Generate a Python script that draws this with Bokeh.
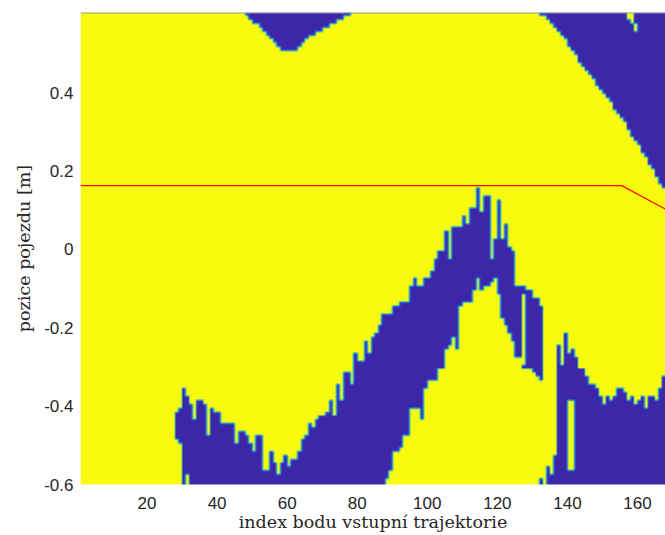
import numpy as np
from bokeh.plotting import figure
from bokeh.models import Range1d, FixedTicker, Span
from bokeh.embed import file_html
from bokeh.resources import INLINE

# ---------------- data ----------------
# grid: columns k cover [k, k+1] on the index axis, rows every 0.01 m
col_first, col_last = 1, 167
y_rows_min, y_rows_max, y_step = -0.6, 0.6, 0.01

# upper-left blue region: blue above these values
top_a_cols = list(range(48, 78))
top_a_lo = [0.595, 0.59, 0.58, 0.573, 0.565, 0.556, 0.545, 0.535, 0.525, 0.515,
            0.502, 0.502, 0.502, 0.502, 0.51, 0.52, 0.527, 0.535, 0.544, 0.55,
            0.553, 0.558, 0.562, 0.568, 0.573, 0.578, 0.582, 0.59, 0.595, 0.598]

# upper-right blue region: blue above these values
top_b_cols = list(range(132, 168))
top_b_lo = [0.60, 0.595, 0.585, 0.575, 0.565, 0.555, 0.545, 0.535, 0.52, 0.51,
            0.495, 0.48, 0.47, 0.46, 0.45, 0.435, 0.42, 0.41, 0.40, 0.385,
            0.375, 0.36, 0.35, 0.34, 0.325, 0.31, 0.29, 0.28, 0.265, 0.25,
            0.235, 0.22, 0.205, 0.19, 0.17, 0.155]

# main blue band (lower-left snake): blue between lo and hi
band1_cols = list(range(28, 133))
band1_hi = [-0.42, -0.41, -0.36, -0.38, -0.40, -0.44, -0.385, -0.385, -0.40, -0.48,
            -0.41, -0.42, -0.415, -0.45, -0.45, -0.445, -0.445, -0.495, -0.47, -0.47,
            -0.475, -0.495, -0.513, -0.48, -0.48, -0.565, -0.565, -0.513, -0.543, -0.573,
            -0.547, -0.53, -0.56, -0.54, -0.54, -0.52, -0.49, -0.48, -0.445, -0.458,
            -0.432, -0.428, -0.428, -0.411, -0.385, -0.424, -0.343, -0.385, -0.317, -0.317,
            -0.347, -0.266, -0.283, -0.283, -0.232, -0.262, -0.228, -0.215, -0.20, -0.165,
            -0.165, -0.165, -0.146, -0.146, -0.14, -0.133, -0.133, -0.099, -0.074, -0.095,
            -0.095, -0.074, -0.074, -0.057, -0.027, -0.002, -0.002, 0.045, -0.027, 0.058,
            0.058, 0.058, 0.088, 0.066, 0.109, 0.109, 0.152, 0.092, 0.135, 0.135,
            -0.027, 0.028, 0.126, 0.028, 0.066, 0.007, -0.002, -0.091, -0.091, -0.091,
            -0.108, -0.108, -0.125, -0.125, -0.146]
band1_lo = [-0.48, -0.49, -0.61, -0.575, -0.61, -0.61, -0.61, -0.61, -0.61, -0.61,
            -0.61, -0.61, -0.61, -0.61, -0.61, -0.61, -0.61, -0.61, -0.61, -0.61,
            -0.61, -0.61, -0.61, -0.61, -0.61, -0.61, -0.61, -0.61, -0.61, -0.61,
            -0.61, -0.61, -0.61, -0.61, -0.61, -0.61, -0.61, -0.61, -0.61, -0.61,
            -0.61, -0.61, -0.61, -0.61, -0.61, -0.61, -0.61, -0.61, -0.61, -0.61,
            -0.61, -0.61, -0.61, -0.61, -0.61, -0.61, -0.61, -0.61, -0.61, -0.61,
            -0.581, -0.564, -0.517, -0.517, -0.504, -0.47, -0.47, -0.406, -0.406, -0.406,
            -0.432, -0.355, -0.33, -0.33, -0.33, -0.30, -0.30, -0.257, -0.24, -0.223,
            -0.257, -0.146, -0.138, -0.138, -0.138, -0.104, -0.074, -0.104, -0.091, -0.095,
            -0.087, -0.074, -0.116, -0.17, -0.197, -0.214, -0.23, -0.274, -0.274, -0.30,
            -0.30, -0.30, -0.31, -0.325, -0.33]

# lower-right blue region: blue from the bottom up to these values
band2_cols = list(range(132, 168))
band2_hi = [-0.59, -0.62, -0.555, -0.58, -0.53, -0.249, -0.30, -0.214, -0.265, -0.257,
            -0.274, -0.308, -0.308, -0.325, -0.342, -0.35, -0.36, -0.376, -0.393, -0.376,
            -0.385, -0.376, -0.36, -0.355, -0.37, -0.385, -0.38, -0.393, -0.385, -0.38,
            -0.41, -0.38, -0.375, -0.385, -0.36, -0.325]

# yellow holes inside blue regions: (column, lo, hi)
hole_cols = [127, 140, 141, 157, 158, 159]
hole_lo = [-0.29, -0.56, -0.56, 0.585, 0.575, 0.56]
hole_hi = [-0.115, -0.39, -0.39, 0.61, 0.60, 0.57]

# red trajectory line
red_x = [1, 155.5, 168]
red_y = [0.163, 0.163, 0.103]

x_ticks = [20, 40, 60, 80, 100, 120, 140, 160]
y_ticks = [-0.6, -0.4, -0.2, 0.0, 0.2, 0.4]
y_tick_labels = ["-0.6", "-0.4", "-0.2", "0", "0.2", "0.4"]

# ---------------- build the map ----------------
yc = np.round(np.arange(y_rows_min, y_rows_max + y_step / 2, y_step), 3)
ncol = col_last - col_first + 1
mask = np.zeros((len(yc), ncol))

def setcol(c, lo, hi, v):
    sel = (yc >= lo - 1e-9) & (yc <= hi + 1e-9)
    mask[sel, c - col_first] = v

for c, lo in zip(top_a_cols, top_a_lo):
    setcol(c, lo, 1.0, 1)
for c, lo in zip(top_b_cols, top_b_lo):
    setcol(c, lo, 1.0, 1)
for c, lo, hi in zip(band1_cols, band1_lo, band1_hi):
    setcol(c, lo, hi, 1)
for c, hi in zip(band2_cols, band2_hi):
    setcol(c, -1.0, hi, 1)
for c, lo, hi in zip(hole_cols, hole_lo, hole_hi):
    setcol(c, lo, hi, 0)

# upsample and soften edges slightly (rendering only)
s = 4
big = np.kron(mask, np.ones((s, s)))
k = np.array([0.25, 0.5, 0.25])
pad = np.pad(big, 1, mode="edge")
big = k[0] * pad[:-2, 1:-1] + k[1] * pad[1:-1, 1:-1] + k[2] * pad[2:, 1:-1]
pad = np.pad(big, 1, mode="edge")
big = k[0] * pad[1:-1, :-2] + k[1] * pad[1:-1, 1:-1] + k[2] * pad[1:-1, 2:]
t = 1.0 - big  # 0 -> blue, 1 -> yellow

anch = [0.0, 0.3, 0.55, 0.8, 1.0]
cr = [62, 45, 25, 90, 249]
cg = [38, 125, 180, 200, 251]
cb = [168, 235, 215, 140, 14]
R = np.interp(t, anch, cr).astype(np.uint32)
G = np.interp(t, anch, cg).astype(np.uint32)
B = np.interp(t, anch, cb).astype(np.uint32)
rgba = ((255 << 24) | (B << 16) | (G << 8) | R).astype(np.uint32)

# ---------------- figure ----------------
p = figure(width=665, height=535, output_backend="svg", toolbar_location=None,
           x_range=Range1d(1, 168), y_range=Range1d(-0.6, 0.605),
           min_border_left=80, min_border_right=0, min_border_top=12, min_border_bottom=51)
p.outline_line_color = None
p.grid.visible = False
p.background_fill_color = "white"

p.image_rgba(image=[rgba], x=col_first, y=y_rows_min - y_step / 2,
             dw=ncol, dh=len(yc) * y_step)
p.line(red_x, red_y, line_color="#ff0000", line_width=1.2)
p.add_layout(Span(location=0.605, dimension="width", line_color="#9a9a9a", line_width=2))

tick_font = "Liberation Sans"
p.xaxis.ticker = FixedTicker(ticks=x_ticks)
p.yaxis.ticker = FixedTicker(ticks=y_ticks)
p.yaxis.major_label_overrides = {v: lab for v, lab in zip(y_ticks, y_tick_labels)}
for ax in (p.xaxis[0], p.yaxis[0]):
    ax.axis_line_color = None
    ax.major_tick_line_color = None
    ax.minor_tick_line_color = None
    ax.major_tick_out = 0
    ax.major_tick_in = 0
    ax.major_label_text_font = tick_font
    ax.major_label_text_font_size = "17px"
    ax.major_label_text_color = "#262626"
    ax.axis_label_text_font = "DejaVu Serif"
    ax.axis_label_text_font_size = "17.5px"
    ax.axis_label_text_font_style = "normal"
    ax.axis_label_text_color = "#262626"
p.xaxis.axis_label = "index bodu vstupní trajektorie"
p.yaxis.axis_label = "pozice pojezdu [m]"
p.xaxis.major_label_standoff = 12
p.xaxis.axis_label_standoff = 0
p.yaxis.major_label_standoff = 7
p.yaxis.axis_label_standoff = 7

open("out.html", "w").write(file_html(p, INLINE))
